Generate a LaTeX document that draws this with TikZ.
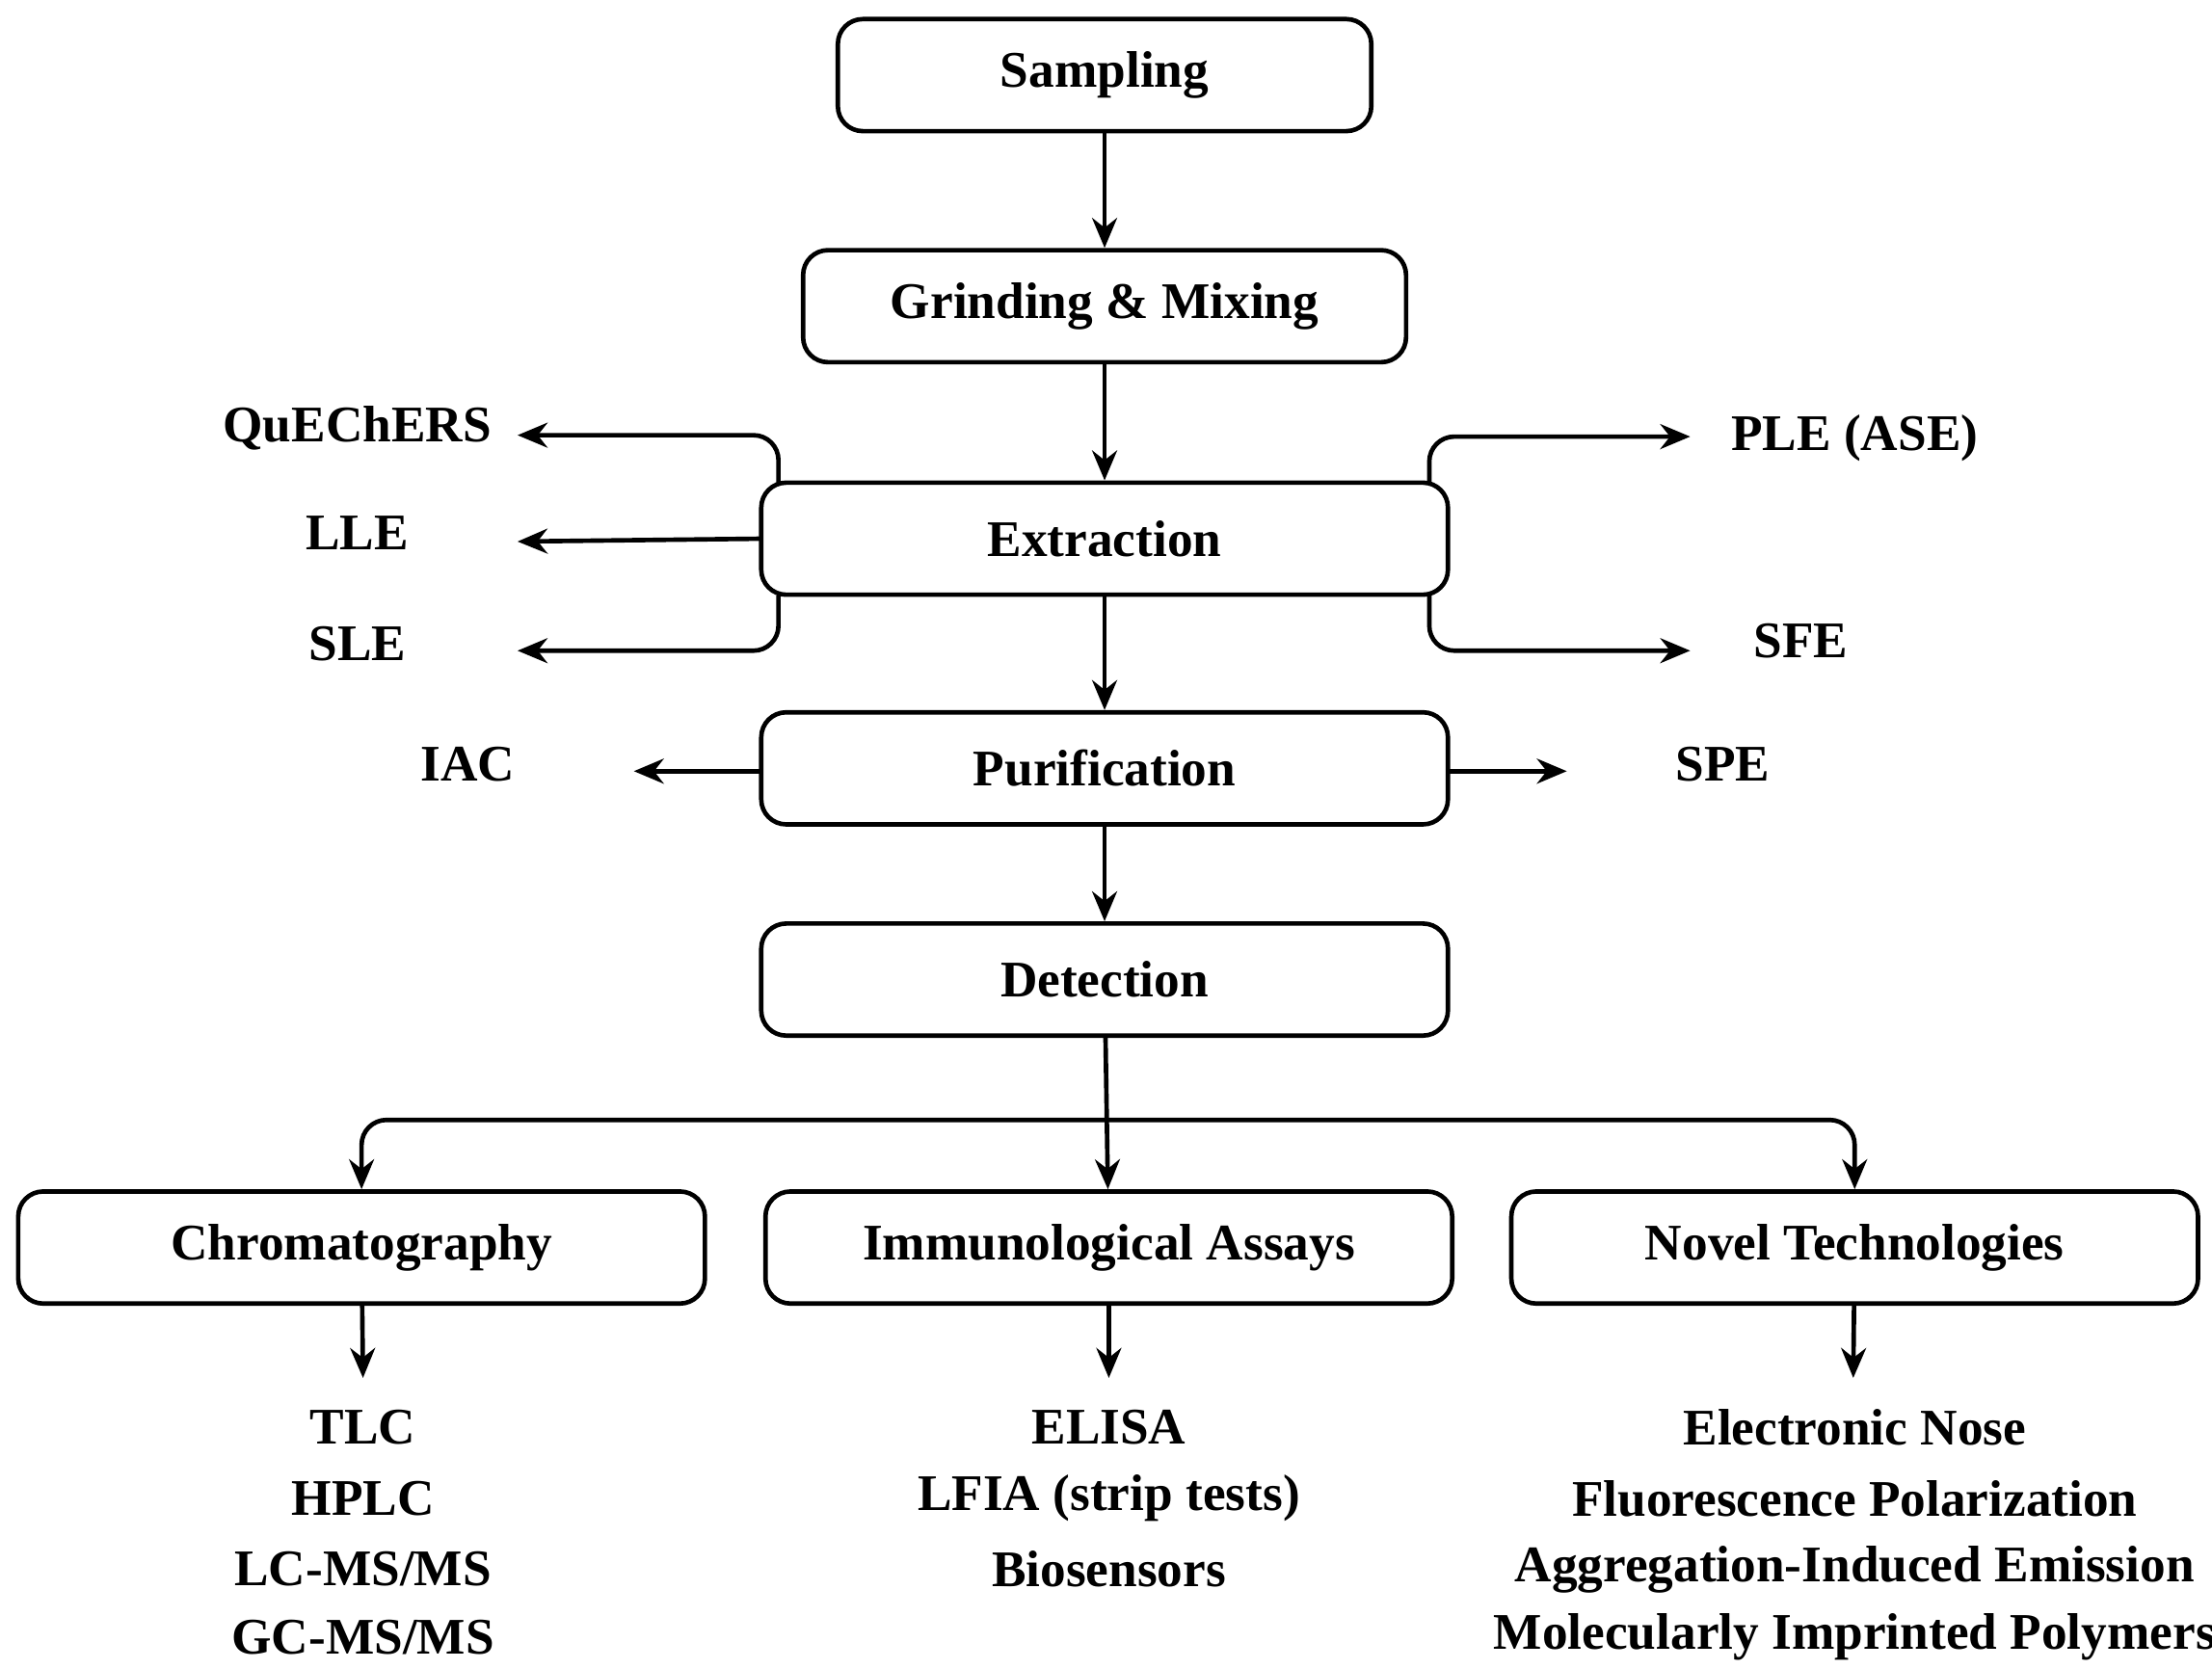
\documentclass[tikz,border=0pt]{standalone}
\usepackage{fontspec}
\setmainfont{Liberation Serif}
\usetikzlibrary{arrows.meta}
\begin{document}
\begin{tikzpicture}[x=0.01cm,y=-0.01cm,
  box/.style={draw,line width=0.9pt,rounded corners=5pt,minimum height=0.79cm,font=\fontsize{10.3pt}{13pt}\selectfont\bfseries,inner sep=0pt},
  lbl/.style={font=\fontsize{10.3pt}{13pt}\selectfont\bfseries,inner sep=0pt},
  arr/.style={line width=0.9pt,-{Stealth[length=6pt,width=5pt]},rounded corners=5pt}]
\useasboundingbox (0,0) rectangle (1560,1177);
\node[box,minimum width=3.76cm] (samp) at (779,53) {Sampling};
\node[box,minimum width=4.25cm] (grind) at (779,216) {Grinding \& Mixing};
\node[box,minimum width=4.84cm] (ext) at (779,380) {Extraction};
\node[box,minimum width=4.84cm] (pur) at (779,542) {Purification};
\node[box,minimum width=4.84cm] (det) at (779,691) {Detection};
\node[box,minimum width=4.84cm] (chr) at (255,880) {Chromatography};
\node[box,minimum width=4.84cm] (imm) at (782,880) {Immunological Assays};
\node[box,minimum width=4.84cm] (nov) at (1308,880) {Novel Technologies};

\node[lbl] (que) at (252,302) {QuEChERS};
\node[lbl] (lle) at (252,376) {LLE};
\node[lbl] (sle) at (252,454) {SLE};
\node[lbl] (ple) at (1308,309) {PLE (ASE)};
\node[lbl] (sfe) at (1270,452) {SFE};
\node[lbl] (iac) at (330,539) {IAC};
\node[lbl] (spe) at (1215,539) {SPE};
\coordinate (cque) at (365,307);
\coordinate (clle) at (365,382);
\coordinate (csle) at (365,459);
\coordinate (cple) at (1192,308);
\coordinate (csfe) at (1192,459);
\coordinate (ciac) at (447,544);
\coordinate (cspe) at (1105,544);

\draw[arr] (samp) -- (grind);
\draw[arr] (grind) -- (ext);
\draw[arr] (ext) -- (pur);
\draw[arr] (pur) -- (det);
\draw[arr] (549,341) |- (cque);
\draw[arr] (537,380) -- (clle);
\draw[arr] (549,420) |- (csle);
\draw[arr] (1008,341) |- (cple);
\draw[arr] (1008,420) |- (csfe);
\draw[arr] (537,544) -- (ciac);
\draw[arr] (1021,544) -- (cspe);

\draw[arr] (det) -- (imm);
\draw[arr] (779,790) -| (chr.north);
\draw[arr] (779,790) -| (nov.north);

\coordinate (lc) at (256,972);
\coordinate (li) at (782,972);
\coordinate (ln) at (1307,972);
\draw[arr] (chr) -- (lc);
\draw[arr] (imm) -- (li);
\draw[arr] (nov) -- (ln);

\node[lbl] (c1) at (256,1007) {TLC};
\node[lbl] (c2) at (256,1057) {HPLC};
\node[lbl] (c3) at (256,1107) {LC-MS/MS};
\node[lbl] (c4) at (256,1155) {GC-MS/MS};
\node[lbl] (i1) at (782,1007) {ELISA};
\node[lbl] (i2) at (782,1057) {LFIA (strip tests)};
\node[lbl] (i3) at (782,1107) {Biosensors};
\node[lbl] (n1) at (1308,1007) {Electronic Nose};
\node[lbl] (n2) at (1308,1057) {Fluorescence Polarization};
\node[lbl] (n3) at (1308,1107) {Aggregation-Induced Emission};
\node[lbl] (n4) at (1308,1155) {Molecularly Imprinted Polymers};
\end{tikzpicture}
\end{document}
